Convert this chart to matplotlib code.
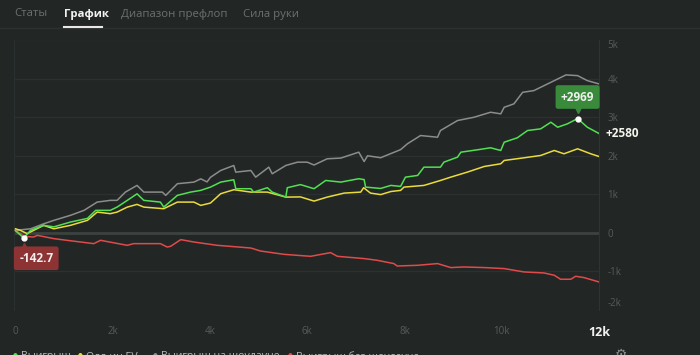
import matplotlib.pyplot as plt
from matplotlib import transforms

plt.rcParams['font.family'] = ['Open Sans', 'DejaVu Sans']

# --- data (hands in thousands, values in chips) ---
hands_win = [0, 0.10, 0.17, 0.31, 0.58, 0.79, 1.13, 1.48, 1.65, 1.95, 2.09, 2.30, 2.50, 2.64,
             2.98, 3.05, 3.33, 3.60, 3.81, 4.01, 4.22, 4.49, 4.53, 4.84, 4.90, 5.18, 5.28,
             5.56, 5.59, 5.86, 6.14, 6.38, 6.69, 7.06, 7.17, 7.20, 7.51, 7.72, 7.92, 8.02,
             8.27, 8.40, 8.74, 8.81, 9.09, 9.16, 9.50, 9.77, 9.98, 10.05, 10.32, 10.53,
             10.80, 11.01, 11.15, 11.35, 11.56, 11.76, 12.0]
win = [50, -60, -143, 60, 190, 150, 275, 370, 580, 580, 665, 840, 1010, 840,
       795, 665, 970, 1055, 1100, 1185, 1315, 1376, 1143, 1143, 1055, 1169, 1055,
       925, 1169, 1250, 1143, 1358, 1315, 1403, 1380, 1185, 1150, 1229, 1203, 1444,
       1488, 1704, 1704, 1834, 1964, 2094, 2156, 2208, 2138, 2353, 2468, 2657,
       2701, 2873, 2743, 2831, 2969, 2743, 2580]

hands_sd = [0, 0.31, 0.58, 0.79, 1.13, 1.41, 1.68, 1.95, 2.09, 2.26, 2.50, 2.64, 3.02, 3.09,
            3.33, 3.67, 3.81, 3.94, 4.01, 4.22, 4.49, 4.53, 4.84, 4.94, 5.21, 5.28, 5.56,
            5.80, 6.00, 6.14, 6.41, 6.69, 7.06, 7.17, 7.24, 7.51, 7.92, 8.06, 8.33, 8.68,
            8.74, 9.09, 9.43, 9.77, 9.98, 10.05, 10.25, 10.43, 10.66, 11.01, 11.32, 11.56,
            11.76, 12.0]
showdown = [60, 100, 230, 320, 450, 580, 795, 840, 840, 1055, 1229, 1055, 1055, 970,
            1273, 1315, 1400, 1320, 1440, 1618, 1748, 1574, 1618, 1444, 1704, 1532, 1748,
            1834, 1834, 1760, 1922, 1940, 2094, 1850, 2000, 1950, 2160, 2312, 2527, 2483,
            2657, 2917, 3003, 3133, 3091, 3262, 3351, 3652, 3696, 3912, 4104, 4086,
            3956, 3870]

hands_nsd = [0, 0.10, 0.17, 0.37, 0.45, 0.79, 1.06, 1.61, 1.75, 2.30, 2.43, 2.98, 3.12, 3.19,
             3.40, 3.67, 4.15, 4.84, 5.04, 5.52, 6.07, 6.48, 6.62, 7.17, 7.44, 7.78, 7.85,
             8.27, 8.68, 8.95, 9.22, 9.64, 10.05, 10.46, 10.87, 11.08, 11.21, 11.42, 11.52,
             11.69, 12.0]
non_showdown = [60, -26, -96, -114, -70, -156, -200, -286, -200, -330, -286, -286, -374, -356,
                -182, -244, -330, -400, -478, -564, -616, -520, -616, -675, -720, -805, -868,
                -850, -805, -909, -893, -909, -935, -1023, -1049, -1109, -1213, -1213, -1135,
                -1169, -1283]

hands_ev = [0, 0.10, 0.24, 0.58, 0.79, 1.13, 1.48, 1.68, 1.95, 2.09, 2.30, 2.50, 2.64, 3.05,
            3.33, 3.67, 3.81, 4.01, 4.22, 4.49, 4.84, 5.18, 5.56, 5.86, 6.14, 6.41, 6.76,
            7.10, 7.16, 7.30, 7.51, 7.72, 7.92, 7.99, 8.40, 8.74, 8.95, 9.29, 9.64, 9.98,
            10.05, 10.46, 10.80, 11.08, 11.28, 11.56, 11.83, 12.0]
allin_ev = [100, 60, -26, 190, 100, 190, 320, 535, 494, 535, 665, 735, 665, 623,
            795, 795, 709, 770, 1013, 1117, 1055, 1055, 925, 930, 821, 925, 1029,
            1055, 1169, 1029, 990, 1070, 1100, 1185, 1229, 1358, 1444, 1574, 1722, 1792,
            1878, 1948, 2008, 2138, 2052, 2182, 2052, 1982]

tabs = ['Статы', 'График', 'Диапазон префлоп', 'Сила руки']
legend_names = ['Выигрыш', 'Олл-ин EV', 'Выигрыш на шоудауне', 'Выигрыш без шоудауна']
y_ticks = [-2000, -1000, 0, 1000, 2000, 3000, 4000, 5000]
y_labels = ['-2k', '-1k', '0', '1k', '2k', '3k', '4k', '5k']
x_ticks = [0, 2, 4, 6, 8, 10, 12]
x_labels = ['0', '2k', '4k', '6k', '8k', '10k', '12k']

bg = '#222726'
c_win, c_ev, c_sd, c_nsd = '#52e052', '#eadb3c', '#8c8c8c', '#e04a4a'

fig = plt.figure(figsize=(7, 3.55), dpi=100, facecolor=bg)
ax = fig.add_axes([14 / 700, 1 - 309.5 / 355, 585 / 700, 269 / 355])
ax.set_facecolor(bg)

# header tabs
tab_x = [14, 64, 121, 243]
for name, x in zip(tabs, tab_x):
    active = name == 'График'
    fig.text(x / 700, 1 - 14 / 355, name, fontsize=8.2, va='center',
             color='#f2f2f2' if active else '#6b716f',
             fontweight='bold' if active else 'normal')
fig.add_artist(plt.Line2D([0, 1], [1 - 27.5 / 355] * 2, color='#2c3231', lw=1))
fig.add_artist(plt.Line2D([64 / 700, 102 / 700], [1 - 26.5 / 355] * 2, color='#e8e8e8', lw=1.5))

# series
ax.plot(hands_sd, showdown, color=c_sd, lw=1.1, zorder=3)
ax.plot(hands_ev, allin_ev, color=c_ev, lw=1.1, zorder=4)
ax.plot(hands_win, win, color=c_win, lw=1.1, zorder=5)
ax.plot(hands_nsd, non_showdown, color=c_nsd, lw=1.1, zorder=3)

ax.set_xlim(-0.03, 12.0)
ax.set_ylim(-2000, 5000)

for y in y_ticks:
    if y == 0:
        ax.axhline(y, color='#3c4240', lw=2, zorder=1)
    else:
        ax.axhline(y, color='#2b3130', lw=1, zorder=1)

for s in ['top', 'bottom']:
    ax.spines[s].set_visible(False)
ax.spines['left'].set_color('#2a302f')
ax.spines['right'].set_color('#2e3433')

ax.yaxis.tick_right()
ax.set_yticks(y_ticks)
ax.set_yticklabels(y_labels)
ax.set_xticks(x_ticks)
ax.set_xticklabels(x_labels)
ax.tick_params(axis='both', length=0, labelsize=7, labelcolor='#565c5a')
ax.tick_params(axis='y', pad=6)
ax.tick_params(axis='x', pad=12)
for lbl in ax.get_yticklabels():
    if lbl.get_text() == '5k':
        lbl.set_va('top')
    elif lbl.get_text() == '-2k':
        lbl.set_va('bottom')
last = ax.get_xticklabels()[-1]
last.set_color('#f2f2f2')
last.set_fontweight('bold')
last.set_fontsize(9)

# peak / min markers
peak_i = win.index(max(win))
min_i = win.index(min(win))
px, py = hands_win[peak_i], win[peak_i]
mx, my = hands_win[min_i], win[min_i]

ax.plot(px, py, 'o', color='white', ms=3.5, zorder=6)
ax.annotate(f'+{py}', (px, py), xytext=(0, 15.5), textcoords='offset points',
            ha='center', va='center', fontsize=8.5, fontweight='bold', color='#f0f0f0',
            bbox=dict(boxstyle='round,pad=0.45,rounding_size=0.2', fc='#3a8a3c', ec='none'),
            zorder=7, annotation_clip=False)
tri = transforms.offset_copy(ax.transData, fig=fig, x=0, y=6.5, units='points')
ax.plot(px, py, 'v', color='#3a8a3c', ms=5, transform=tri, zorder=7, clip_on=False)

ax.plot(mx, my, 'o', color='white', ms=3.5, zorder=6)
ax.annotate('-142.7', (mx, my), xytext=(9, -14.5), textcoords='offset points',
            ha='center', va='center', fontsize=8.5, fontweight='bold', color='#f0f0f0',
            bbox=dict(boxstyle='round,pad=0.45,rounding_size=0.2', fc='#8e3333', ec='none'),
            zorder=7, annotation_clip=False)
tri2 = transforms.offset_copy(ax.transData, fig=fig, x=0, y=-5.5, units='points')
ax.plot(mx, my, '^', color='#8e3333', ms=5, transform=tri2, zorder=7, clip_on=False)

ax.annotate(f'+{win[-1]}', (hands_win[-1], win[-1]), xytext=(5, 0), textcoords='offset points',
            ha='left', va='center', fontsize=8.5, fontweight='bold', color='#f4f4ea',
            annotation_clip=False)

# bottom legend (cut off by the figure edge)
leg_x = [15, 80, 155, 290]
leg_c = [c_win, c_ev, c_sd, c_nsd]
for name, x, c in zip(legend_names, leg_x, leg_c):
    fig.text(x / 700, 1 - 355 / 355, '●', fontsize=4, color=c, va='center', ha='center')
    fig.text((x + 6) / 700, 1 - 357 / 355, name, fontsize=7.6, color='#b8bcba', va='center')
fig.text(621 / 700, 1 - 355 / 355, '⚙', fontsize=10, color='#8a8f8d', va='center', ha='center')

fig.savefig('out.png', dpi=100, facecolor=bg)
